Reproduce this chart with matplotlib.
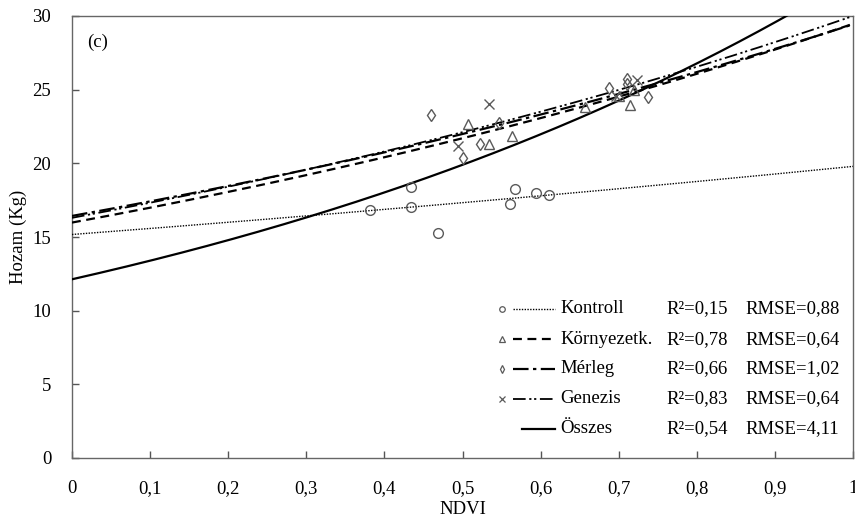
import numpy as np
import matplotlib
matplotlib.use("Agg")
import matplotlib.pyplot as plt

plt.rcParams['font.family'] = ['Liberation Serif', 'DejaVu Serif']

# measured points (NDVI, yield)
kontroll_x = [0.382, 0.434, 0.434, 0.468, 0.561, 0.567, 0.594, 0.611]
kontroll_y = [16.84, 18.42, 17.02, 15.30, 17.22, 18.24, 18.01, 17.85]
kornyezet_x = [0.507, 0.534, 0.563, 0.657, 0.700, 0.714, 0.720]
kornyezet_y = [22.67, 21.30, 21.88, 23.85, 24.60, 23.96, 25.00]
merleg_x = [0.460, 0.500, 0.523, 0.547, 0.687, 0.711, 0.710, 0.738]
merleg_y = [23.29, 20.39, 21.30, 22.72, 25.10, 25.70, 25.39, 24.49]
genezis_x = [0.494, 0.534, 0.697, 0.724]
genezis_y = [21.20, 24.03, 24.55, 25.66]

# exponential trend lines y = a*exp(b*x)
names = ['Kontroll', 'Környezetk.', 'Mérleg', 'Genezis', 'Összes']
fit_a = [15.17, 15.98, 16.43, 16.30, 12.13]
fit_b = [0.266, 0.612, 0.583, 0.610, 0.990]
r2 = ['0,15', '0,78', '0,66', '0,83', '0,54']
rmse = ['0,88', '0,64', '1,02', '0,64', '4,11']

xticks = [0, 0.1, 0.2, 0.3, 0.4, 0.5, 0.6, 0.7, 0.8, 0.9, 1]
xticklabels = ['0', '0,1', '0,2', '0,3', '0,4', '0,5', '0,6', '0,7', '0,8', '0,9', '1']
yticks = [0, 5, 10, 15, 20, 25, 30]

points = [(kontroll_x, kontroll_y), (kornyezet_x, kornyezet_y),
          (merleg_x, merleg_y), (genezis_x, genezis_y), None]
markers = ['o', '^', 'd', 'x', None]
msizes = [7, 7, 6.5, 7.5, None]
styles = [
    dict(linestyle=(0, (1, 1)), lw=1.0),
    dict(linestyle=(0, (4, 2.5)), lw=1.6),
    dict(linestyle=(0, (7, 2, 1.5, 2)), lw=1.6),
    dict(linestyle=(0, (7, 2, 1.2, 1.5, 1.2, 2)), lw=1.3),
    dict(linestyle='-', lw=1.6),
]
mcol = '#5a5a5a'
fs = 13.5

fig = plt.figure(figsize=(8.55, 5.18), dpi=100)
ax = fig.add_axes([72 / 855, 1 - 458 / 518, 781 / 855, 442 / 518])

xx = np.linspace(0, 1, 400)
for i in range(5):
    ax.plot(xx, fit_a[i] * np.exp(fit_b[i] * xx), color='black', **styles[i], zorder=3)
    if points[i] is not None:
        px, py = points[i]
        ax.plot(px, py, linestyle='none', marker=markers[i], ms=msizes[i],
                mfc='none', mec=mcol, mew=1.0, zorder=4)

ax.set_xlim(0, 1)
ax.set_ylim(0, 30)
ax.set_xticks(xticks)
ax.set_xticklabels(xticklabels)
ax.set_yticks(yticks)
ax.tick_params(direction='in', length=5, width=1, color='#555555',
               labelsize=fs, pad=16)
ax.tick_params(axis='y', pad=15)
for s in ax.spines.values():
    s.set_color('#666666')
    s.set_linewidth(1.0)

ax.set_xlabel('NDVI', fontsize=fs, labelpad=3)
ax.set_ylabel('Hozam (Kg)', fontsize=fs, labelpad=4)
ax.text(0.019, 0.941, '(c)', transform=ax.transAxes, fontsize=fs, va='center', ha='left')

# hand-built legend in axes fraction
row_y = [308.3, 339.0, 368.5, 398.3, 428.3]
def fx(p):
    return (p - 72) / 781
def fy(p):
    return (457.7 - p) / 442
for i in range(5):
    yy = fy(row_y[i])
    if markers[i] is not None:
        ax.plot([fx(502)], [yy], transform=ax.transAxes, marker=markers[i], ms=4,
                mfc='none', mec=mcol, mew=0.9, linestyle='none', clip_on=False)
    x0 = 513 if i < 4 else 522
    ax.plot([fx(x0), fx(555)], [yy, yy], transform=ax.transAxes, color='black',
            clip_on=False, **styles[i])
    ax.text(fx(560), yy, names[i], transform=ax.transAxes, fontsize=fs, va='center')
    ax.text(fx(666), yy, 'R²=' + r2[i], transform=ax.transAxes, fontsize=fs, va='center')
    ax.text(fx(745), yy, 'RMSE=' + rmse[i], transform=ax.transAxes, fontsize=fs, va='center')

fig.savefig('out.png', dpi=100)
